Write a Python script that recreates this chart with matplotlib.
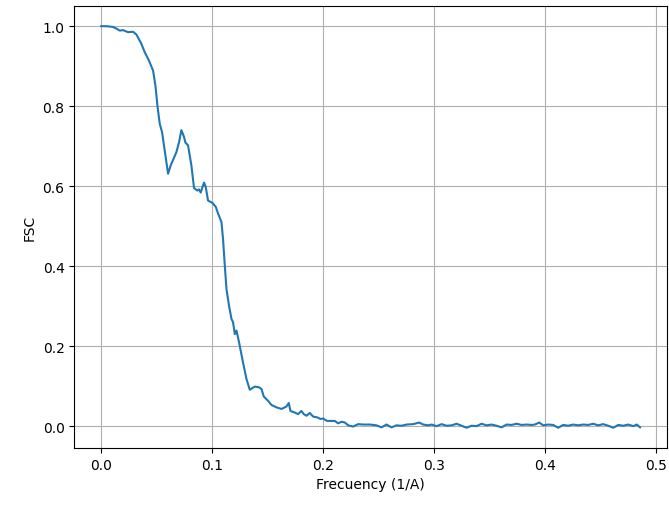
import numpy as np
import matplotlib
matplotlib.use("Agg")
import matplotlib.pyplot as plt

# FSC curve
freq = [0.000, 0.004, 0.008, 0.0105, 0.013, 0.0167, 0.0197, 0.0242, 0.0287, 0.0317,
        0.036, 0.039, 0.043, 0.0467, 0.0488, 0.0506, 0.0527, 0.0548, 0.0578, 0.0602,
        0.0626, 0.0677, 0.0701, 0.0722, 0.0746, 0.0758, 0.0782, 0.0812, 0.0836, 0.0866,
        0.0880, 0.0896, 0.0926, 0.0941, 0.0962, 0.1002, 0.1032, 0.1053, 0.1083, 0.1097,
        0.1113, 0.1128, 0.1151, 0.1173, 0.1187, 0.1203, 0.1218, 0.1241, 0.1277, 0.1308,
        0.1338, 0.1383, 0.1422, 0.1443, 0.1464, 0.1503, 0.1533, 0.1578, 0.1623, 0.1668,
        0.1689, 0.1704, 0.1743, 0.1773, 0.1803, 0.1824, 0.1849, 0.1878, 0.1908, 0.1944,
        0.1975, 0.1998, 0.2034, 0.2074, 0.2104, 0.2133, 0.2164, 0.2194, 0.2224, 0.2268,
        0.2314, 0.2359, 0.2419, 0.2479, 0.2524, 0.2569, 0.2614, 0.2659, 0.2705, 0.2750,
        0.2809, 0.2863, 0.2899, 0.2944, 0.2975, 0.3020, 0.3065, 0.3110, 0.3155, 0.3200,
        0.3245, 0.3290, 0.3335, 0.3380, 0.3425, 0.3470, 0.3515, 0.3560, 0.3605, 0.3650,
        0.3695, 0.3740, 0.3786, 0.3831, 0.3876, 0.3905, 0.3944, 0.3980, 0.4025, 0.4070,
        0.4115, 0.4160, 0.4205, 0.4250, 0.4295, 0.4340, 0.4385, 0.4430, 0.4475, 0.4520,
        0.4566, 0.4611, 0.4656, 0.4701, 0.4746, 0.4791, 0.4822, 0.4852]
fsc = [1.000, 1.000, 0.999, 0.998, 0.995, 0.989, 0.990, 0.985, 0.986, 0.979,
       0.957, 0.936, 0.914, 0.889, 0.852, 0.802, 0.756, 0.735, 0.677, 0.631,
       0.652, 0.685, 0.710, 0.740, 0.723, 0.709, 0.702, 0.652, 0.595, 0.589,
       0.592, 0.584, 0.609, 0.598, 0.564, 0.558, 0.548, 0.531, 0.510, 0.468,
       0.401, 0.343, 0.301, 0.268, 0.260, 0.230, 0.239, 0.210, 0.159, 0.118,
       0.091, 0.099, 0.097, 0.093, 0.074, 0.063, 0.053, 0.047, 0.043, 0.049,
       0.058, 0.038, 0.034, 0.030, 0.038, 0.030, 0.026, 0.033, 0.024, 0.022,
       0.018, 0.019, 0.013, 0.013, 0.013, 0.007, 0.011, 0.009, 0.002, -0.001,
       0.005, 0.004, 0.004, 0.002, -0.003, 0.004, -0.003, 0.002, 0.001, 0.004,
       0.005, 0.009, 0.004, 0.002, 0.004, 0.000, 0.005, 0.001, 0.002, 0.006,
       0.001, -0.004, 0.001, 0.000, 0.006, 0.002, 0.004, 0.001, -0.003, 0.004,
       0.003, 0.006, 0.003, 0.004, 0.003, 0.004, 0.009, 0.002, 0.004, 0.003,
       -0.004, 0.003, 0.001, 0.004, 0.002, 0.004, 0.003, 0.006, 0.002, 0.005,
       0.001, -0.004, 0.003, 0.001, 0.004, 0.000, 0.004, -0.003]

freq = np.array(freq)
fsc = np.array(fsc)

fig, ax = plt.subplots(figsize=(6.69, 5.06), dpi=100)
fig.subplots_adjust(left=0.111, right=0.997, bottom=0.113, top=0.986)

ax.plot(freq, fsc)
ax.set_xlabel('Frecuency (1/A)')
ax.set_ylabel('FSC')
ax.grid(True)

fig.savefig('out.png', dpi=100)
